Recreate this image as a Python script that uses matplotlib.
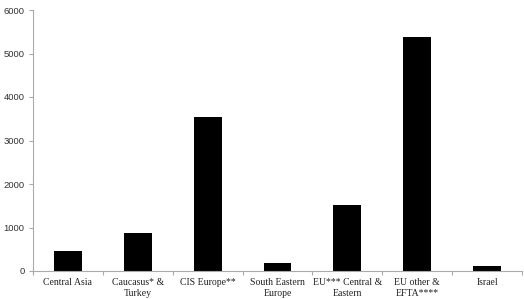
import matplotlib
matplotlib.use('Agg')
import matplotlib.pyplot as plt
import numpy as np

# data
regions = ['Central Asia', 'Caucasus* &\nTurkey', 'CIS Europe**', 'South Eastern\nEurope',
           'EU*** Central &\nEastern', 'EU other &\nEFTA****', 'Israel']
values = [465, 880, 3545, 175, 1515, 5385, 110]
yticks = [0, 1000, 2000, 3000, 4000, 5000, 6000]

fig = plt.figure(figsize=(5.24, 2.99), dpi=100)
ax = fig.add_axes([33 / 524, 28 / 299, 489 / 524, 261 / 299])

x = np.arange(len(regions))
ax.bar(x, values, width=0.4, color='black')

ax.set_xlim(-0.5, len(regions) - 0.5)
ax.set_ylim(0, 6000)
ax.set_yticks(yticks)
ax.set_yticklabels([str(v) for v in yticks], fontsize=6.8, family='Liberation Sans', color='#333333')

# category labels centred under bars, ticks at the boundaries
ax.set_xticks(x)
ax.set_xticklabels(regions, fontsize=7, family='Liberation Serif', color='#222222', linespacing=1.35)
ax.tick_params(axis='x', which='major', length=0, pad=5)
ax.set_xticks(np.arange(-0.5, len(regions)), minor=True)
ax.tick_params(axis='x', which='minor', length=3, color='#aaaaaa', width=0.8)
ax.tick_params(axis='y', length=3, color='#aaaaaa', width=0.8, pad=3)

for s in ['top', 'right']:
    ax.spines[s].set_visible(False)
for s in ['left', 'bottom']:
    ax.spines[s].set_color('#aaaaaa')
    ax.spines[s].set_linewidth(0.8)

fig.savefig('out.png', dpi=100)
